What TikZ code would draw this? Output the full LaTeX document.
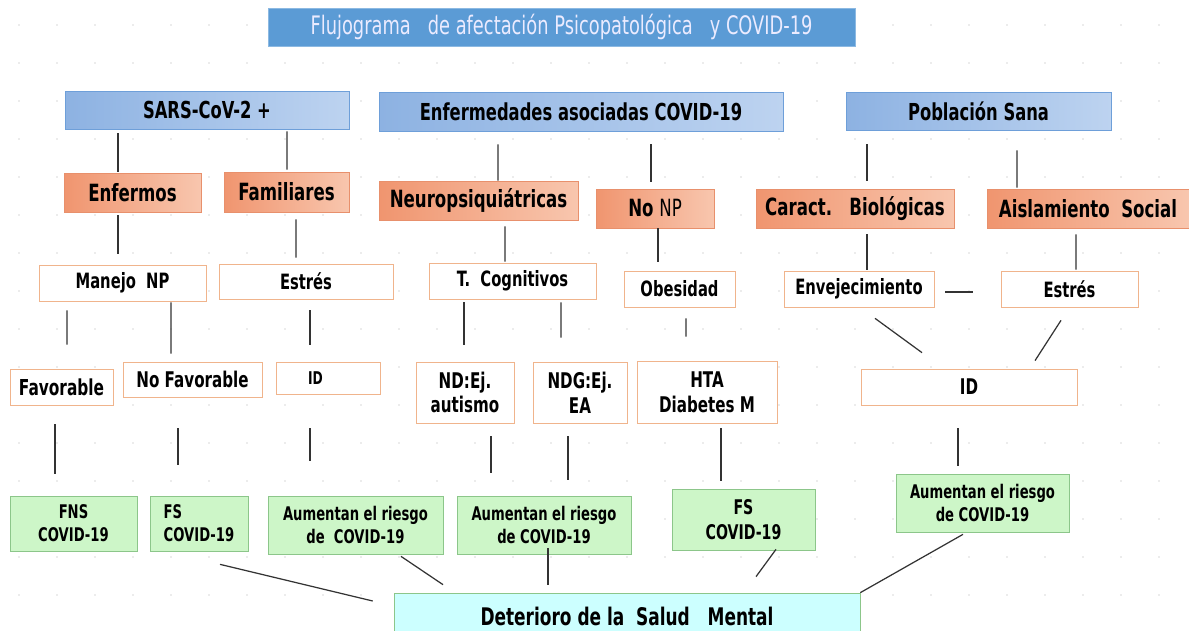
\documentclass[tikz,border=0pt]{standalone}
\usepackage{fontspec}
\setmainfont{DejaVu Sans}[FakeStretch=0.7]
\usetikzlibrary{calc, positioning}
\definecolor{titleblue}{HTML}{5B9BD5}
\definecolor{blueA}{HTML}{8DB2E2}
\definecolor{blueB}{HTML}{BDD3F0}
\definecolor{blueline}{HTML}{6E9FD9}
\definecolor{orangeA}{HTML}{F0956F}
\definecolor{orangeB}{HTML}{F8C6AE}
\definecolor{orangeline}{HTML}{E8906C}
\definecolor{paleline}{HTML}{F0B48C}
\definecolor{greenfill}{HTML}{CDF6C8}
\definecolor{greenline}{HTML}{8CC68A}
\definecolor{cyanfill}{HTML}{CCFFFF}
\tikzset{
    box/.style={rectangle, inner sep=0pt, align=center},
    titlebox/.style={box, fill=titleblue, draw=titleblue!70, text=white!92!blue,
      font=\fontsize{14.5}{17}\selectfont},
    lvlone/.style={box, left color=blueA, right color=blueB, draw=blueline,
      font=\fontsize{13.3}{15}\selectfont\bfseries},
    lvltwo/.style={box, left color=orangeA, right color=orangeB, draw=orangeline,
      font=\fontsize{13.5}{15}\selectfont\bfseries},
    plain/.style={box, fill=white, draw=paleline,
      font=\fontsize{12}{14}\selectfont\bfseries},
    risk/.style={box, fill=greenfill, draw=greenline,
      font=\fontsize{10.7}{13}\selectfont\bfseries},
    outcome/.style={box, fill=cyanfill, draw=greenline,
      font=\fontsize{13.8}{15}\selectfont\bfseries},
    link/.style={draw=black!80, line width=0.7pt},
}

\begin{document}
\begin{tikzpicture}[x=0.02cm, y=-0.02cm]
    \useasboundingbox (0,0) rectangle (1189,631);
    \fill[white] (0,0) rectangle (1189,631);
    \foreach \i in {0,...,31}
      \foreach \j in {0,...,16}
        \fill[gray!30] (19+38*\i, 25+38*\j) circle (0.9);

    \node[titlebox, minimum width=117.4mm, minimum height=7.6mm] (title) at (561.5,27)
      {Flujograma\ \ \ de afectación Psicopatológica\ \ \ y COVID-19};

    % grupos
    \node[lvlone, minimum width=56.8mm, minimum height=7.6mm] (sars) at (207,110) {SARS-CoV-2 +};
    \node[lvlone, minimum width=80.8mm, minimum height=7.8mm] (enfa) at (581,111.5) {Enfermedades asociadas COVID-19};
    \node[lvlone, minimum width=53mm, minimum height=7.6mm] (sana) at (978.5,111) {Población Sana};

    \node[lvltwo, minimum width=27.4mm, minimum height=7.8mm] (enf) at (132.5,192.5) {Enfermos};
    \node[lvltwo, minimum width=25mm, minimum height=8mm] (fam) at (286.5,192) {Familiares};
    \node[lvltwo, minimum width=39.8mm, minimum height=7.8mm] (neuro) at (478.5,200.5) {Neuropsiquiátricas};
    \node[lvltwo, minimum width=23.6mm, minimum height=7.8mm] (nonp) at (655,208.5) {No {\mdseries NP}};
    \node[lvltwo, minimum width=39.6mm, minimum height=7.8mm] (carac) at (855,208.5) {Caract.\ \ \ Biológicas};
    \node[lvltwo, minimum width=40.4mm, minimum height=7.8mm] (aisla) at (1088,208.5) {Aislamiento\ \ Social};

    \node[plain, minimum width=33.4mm, minimum height=7.2mm] (manejo) at (122.5,283) {Manejo\ \ NP};
    \node[plain, minimum width=34.8mm, minimum height=7mm] (estres) at (306,281.5) {Estrés};
    \node[plain, minimum width=33.4mm, minimum height=7.2mm] (tcog) at (512.5,281) {T.\ \ Cognitivos};
    \node[plain, minimum width=22.2mm, minimum height=7.2mm] (obes) at (679.5,289) {Obesidad};
    \node[plain, minimum width=30mm, minimum height=7.2mm] (envej) at (859,289) {Envejecimiento};
    \node[plain, minimum width=27.4mm, minimum height=7.2mm] (estresb) at (1069.5,289) {Estrés};

    \node[plain, font=\fontsize{12.5}{14}\selectfont\bfseries, minimum width=20.6mm, minimum height=7.2mm] (fav) at (61.5,387) {Favorable};
    \node[plain, font=\fontsize{12.3}{14}\selectfont\bfseries, minimum width=27.8mm, minimum height=7mm] (nofav) at (192.5,379.5) {No Favorable};
    \node[plain, font=\fontsize{10}{12}\selectfont\bfseries, minimum width=20.8mm, minimum height=6.4mm] (ida) at (328,378) {ID\hspace*{5mm}};
    \node[plain, font=\fontsize{12.3}{14}\selectfont\bfseries, minimum width=19.6mm, minimum height=12.2mm] (nd) at (465,392.5) {ND:Ej.\\autismo};
    \node[plain, font=\fontsize{12.3}{14}\selectfont\bfseries, minimum width=18.8mm, minimum height=12.2mm] (ndg) at (580,392.5) {NDG:Ej.\\EA};
    \node[plain, font=\fontsize{12.3}{14}\selectfont\bfseries, minimum width=28mm, minimum height=12.4mm] (hta) at (707,392) {HTA\\Diabetes M};
    \node[plain, font=\fontsize{12.3}{14}\selectfont\bfseries, minimum width=43.2mm, minimum height=7.2mm] (idb) at (969,387) {ID};

    \node[risk, minimum width=25.4mm, minimum height=11mm] (fns) at (73.5,523.5) {FNS\\COVID-19};
    \node[risk, align=left, minimum width=19.6mm, minimum height=11mm] (fsa) at (199,523.5) {FS\\COVID-19};
    \node[risk, minimum width=35mm, minimum height=11.6mm] (aua) at (355.5,525) {Aumentan el riesgo\\de\ \ COVID-19};
    \node[risk, minimum width=34.8mm, minimum height=11.6mm] (aub) at (544,525) {Aumentan el riesgo\\de COVID-19};
    \node[risk, font=\fontsize{11.5}{14}\selectfont\bfseries, minimum width=28.6mm, minimum height=12.2mm] (fsb) at (743.5,519.5) {FS\\COVID-19};
    \node[risk, minimum width=34.6mm, minimum height=11.6mm] (auc) at (982.5,503) {Aumentan el riesgo\\de COVID-19};

    \node[outcome, minimum width=93.2mm, minimum height=9.2mm] (det) at (627,616) {Deterioro de la\ \ Salud\ \ \ Mental};

    % conectores
    \draw[link] ($(sars.south)+(-89,4)$) -- ($(enf.north)+(-14.5,-1)$);
    \draw[link] ($(sars.south)+(80,2)$) -- ($(fam.north)+(0.5,-2)$);
    \draw[link] ($(enfa.south)+(-83,13)$) -- ($(neuro.north)+(19.5,0)$);
    \draw[link] ($(enfa.south)+(70,13)$) -- ($(nonp.north)+(-4,-7)$);
    \draw[link] ($(sana.south)+(-111.5,14)$) -- ($(carac.north)+(12,-8)$);
    \draw[link] ($(sana.south)+(38.5,20)$) -- ($(aisla.north)+(-71,-1)$);

    \draw[link] ($(enf.south)+(-14.5,3)$) -- ($(manejo.north)+(-4.5,-11)$);
    \draw[link] ($(fam.south)+(9.5,7)$) -- ($(estres.north)+(-10,-6)$);
    \draw[link] ($(neuro.south)+(26.5,6)$) -- ($(tcog.north)+(-7.5,-1)$);
    \draw[link] ($(nonp.south)+(3,0)$) -- ($(obes.north)+(-21.5,-9)$);
    \draw[link] ($(carac.south)+(12,6)$) -- ($(envej.north)+(8,-1)$);
    \draw[link] ($(aisla.south)+(-12,6)$) -- ($(estresb.north)+(6.5,-1)$);
    \draw[link] ($(envej.east)+(11,3)$) -- ($(estresb.west)+(-28,3)$);

    \draw[link] ($(manejo.south)+(-55.5,9)$) -- ($(fav.north)+(5.5,-24)$);
    \draw[link] ($(manejo.south)+(48.5,1)$) -- ($(nofav.north)+(-21.5,-8)$);
    \draw[link] ($(estres.south)+(4,11)$) -- ($(ida.north)+(-18,-17)$);
    \draw[link] ($(tcog.south)+(-48.5,3)$) -- ($(nd.north)+(-1,-17)$);
    \draw[link] ($(tcog.south)+(48.5,3)$) -- ($(ndg.north)+(-19,-24)$);
    \draw[link] ($(obes.south)+(6.5,11)$) -- ($(hta.north)+(-21,-24)$);
    \draw[link] ($(envej.south)+(16,11)$) -- ($(idb.north)+(-47,-16)$);
    \draw[link] ($(estresb.south)+(-8.5,13)$) -- ($(idb.north)+(66,-8)$);

    \draw[link] ($(fav.south)+(-6.5,19)$) -- ($(fns.north)+(-18.5,-22)$);
    \draw[link] ($(nofav.south)+(-14.5,31)$) -- ($(fsa.north)+(-21,-31)$);
    \draw[link] ($(ida.south)+(-18,34)$) -- ($(aua.north)+(-45.5,-35)$);
    \draw[link] ($(nd.south)+(26,13)$) -- ($(aub.north)+(-53,-23)$);
    \draw[link] ($(ndg.south)+(-12,13)$) -- ($(aub.north)+(24,-16)$);
    \draw[link] ($(hta.south)+(14,5)$) -- ($(fsb.north)+(-22.5,-8)$);
    \draw[link] ($(idb.south)+(-11,23)$) -- ($(auc.north)+(-24.5,-8)$);

    \draw[link] ($(fsa.south)+(21,13)$) -- ($(det.west)+(-21,-15)$);
    \draw[link] ($(aua.south)+(45.5,2)$) -- ($(det.north)+(-184,-8)$);
    \draw[link] ($(aub.south)+(4,-6)$) -- ($(det.north)+(-79,-8)$);
    \draw[link] ($(fsb.south)+(32.5,-1)$) -- ($(det.north)+(129,-16)$);
    \draw[link] ($(auc.south)+(-19.5,2)$) -- (det.north east);
\end{tikzpicture}
\end{document}
